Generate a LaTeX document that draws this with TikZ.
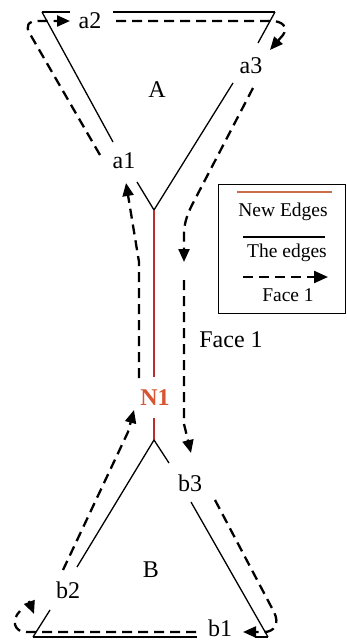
\documentclass[tikz,border=0pt]{standalone}
\usepackage{fontspec}
\setmainfont{Liberation Serif}
\usetikzlibrary{arrows.meta}
\definecolor{newedge}{RGB}{190,45,45}
\definecolor{nonelabel}{RGB}{215,85,50}
\definecolor{legendorange}{RGB}{205,110,75}
\tikzset{
  edge/.style={line width=1.3pt, black},
  newline/.style={line width=2pt, newedge},
  face/.style={line width=2.3pt, black, dash pattern=on 10pt off 6pt},
  tip/.style={-{Triangle[length=13pt,width=11pt]}},
  lbl/.style={font=\fontsize{24}{26}\selectfont, inner sep=0pt},
  leg/.style={font=\fontsize{19.5}{21}\selectfont, inner sep=0pt},
}
\begin{document}
\begin{tikzpicture}[x=1pt,y=-1pt]
\useasboundingbox (0,0) rectangle (347,642);
\fill[white] (0,0) rectangle (347,642);

% ---- vertices and edge end points
\coordinate (TL) at (42,12);
\coordinate (TR) at (275,12);
\coordinate (VA) at (154,210);
\coordinate (a2L) at (70,12);
\coordinate (a2R) at (113,12);
\coordinate (a3U) at (258,43);
\coordinate (a3D) at (233,83);
\coordinate (a1U) at (113,142);
\coordinate (a1D) at (137,182);

\coordinate (VB) at (154,440);
\coordinate (BL) at (33,637);
\coordinate (BR) at (268,637);
\coordinate (b3U) at (169,463);
\coordinate (b3D) at (191,502);
\coordinate (b2U) at (77,567);
\coordinate (b2D) at (50,610);
\coordinate (b1L) at (197,637);
\coordinate (b1R) at (255,637);

\coordinate (N1U) at (154,377);
\coordinate (N1D) at (154,418);

% ---- labels
\node[lbl] (A) at (157,90) {A};
\node[lbl] (B) at (151,570) {B};
\node[lbl] (a1) at (124,161) {a1};
\node[lbl] (a2) at (90,21) {a2};
\node[lbl] (a3) at (251,66) {a3};
\node[lbl] (b1) at (220,628) {b1};
\node[lbl] (b2) at (68,590) {b2};
\node[lbl] (b3) at (190,483) {b3};
\node[lbl, text=nonelabel, font=\fontsize{24}{26}\selectfont\bfseries] (N1) at (155,398) {N1};
\node[lbl] (face) at (231,340) {Face 1};

% ---- triangle A
\draw[edge, line width=1.7pt] (TL) -- (a2L);
\draw[edge, line width=1.7pt] (a2R) -- (TR);
\draw[edge] (TR) -- (a3U);
\draw[edge] (a3D) -- (VA);
\draw[edge] (TL) -- (a1U);
\draw[edge] (a1D) -- (VA);

% ---- new edge
\draw[newline] (VA) -- (N1U);
\draw[newline] (N1D) -- (VB);

% ---- triangle B
\draw[edge] (VB) -- (b3U);
\draw[edge] (b3D) -- (BR);
\draw[edge] (VB) -- (b2U);
\draw[edge] (b2D) -- (BL);
\draw[edge] (BL) -- (b1L);
\draw[edge] (b1R) -- (BR);

% ---- face 1 (dashed)
\coordinate (f1s) at (139,378);
\coordinate (f1t) at (126,183);
\draw[face,tip] (f1s) -- (139,262) -- (f1t);

\coordinate (f2s) at (100,155);
\coordinate (f2t) at (70,21);
\draw[face,tip] (f2s) -- (30,34) .. controls (25,26) and (28,21) .. (38,21) -- (f2t);

\coordinate (f3s) at (116,21);
\coordinate (f3t) at (270,50);
\draw[face,tip] (f3s) -- (268,21) .. controls (284,20) and (288,28) .. (283,35) -- (f3t);

\coordinate (f4s) at (253,88);
\coordinate (f4t) at (184,262);
\draw[face,tip] (f4s) -- (192,205) .. controls (186,217) and (184,225) .. (184,236) -- (f4t);

\coordinate (f5s) at (184,280);
\coordinate (f5t) at (191,453);
\draw[face,tip] (f5s) -- (184,424) -- (f5t);

\coordinate (f6s) at (215,500);
\coordinate (f6t) at (243,632);
\draw[face,tip] (f6s) -- (274,612) .. controls (280,624) and (274,632) .. (264,632) -- (f6t);

\coordinate (f7s) at (196,632);
\coordinate (f7e) at (20,611);
\draw[face] (f7s) -- (26,632) .. controls (14,632) and (11,620) .. (f7e);
\coordinate (f7a) at (29,601);
\coordinate (f7t) at (34,614);
\draw[face,tip] (f7a) -- (f7t);

\coordinate (f8s) at (63,570);
\coordinate (f8t) at (134,410);
\draw[face,tip] (f8s) -- (128,432) -- (f8t);

% ---- legend
\node[draw, line width=1pt, minimum width=127pt, minimum height=129pt, inner sep=0pt] (legend) at (281.5,248.5) {};
\coordinate (l1a) at (237,192);
\coordinate (l1b) at (332,192);
\draw[line width=2.5pt, legendorange] (l1a) -- (l1b);
\node[leg] (lnew) at (283,212) {New Edges};
\coordinate (l2a) at (243,237);
\coordinate (l2b) at (325,237);
\draw[line width=2pt] (l2a) -- (l2b);
\node[leg] (ledge) at (287,253) {The edges};
\coordinate (l3a) at (243,277);
\coordinate (l3b) at (328,277);
\draw[face,-{Triangle[length=14pt,width=12pt]}] (l3a) -- (l3b);
\node[leg] (lface) at (288,295) {Face 1};
\end{tikzpicture}
\end{document}
